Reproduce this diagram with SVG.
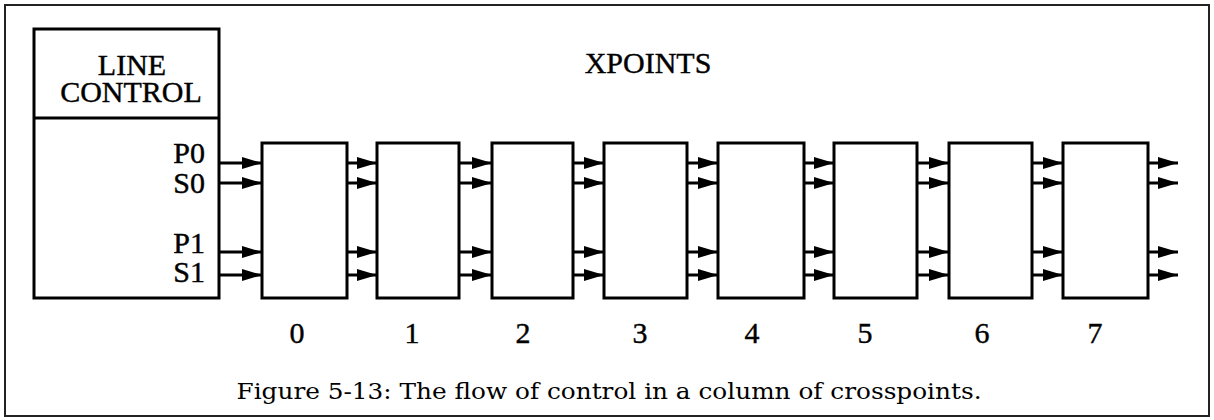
<svg xmlns="http://www.w3.org/2000/svg" width="1214" height="420" viewBox="0 0 1214 420">
<style>
.frame{fill:#fff;stroke:#222;stroke-width:2}
.box{fill:#fff;stroke:#000;stroke-width:3}
.t{font-family:"Liberation Serif","Times New Roman",serif;font-size:30px;fill:#000;stroke:#000;stroke-width:0.4}
.cap{font-family:"DejaVu Serif","Liberation Serif",serif;font-size:23px;fill:#000}
.c{stroke:#000;stroke-width:3;fill:none;marker-end:url(#ah)}
</style>
<defs>
<marker id="ah" markerUnits="userSpaceOnUse" markerWidth="22" markerHeight="14" refX="20" refY="6" orient="auto">
<path d="M0,0 L20,6 L0,12 z" fill="#000"/>
</marker>
</defs>
<rect class="frame" x="5" y="5" width="1204" height="411"/>
<g id="line-control">
<rect class="box" x="34" y="29" width="185" height="269"/>
<line x1="34" y1="118" x2="219" y2="118" stroke="#000" stroke-width="3"/>
<text class="t" x="132" y="75" text-anchor="middle">LINE</text>
<text class="t" x="131" y="102" text-anchor="middle">CONTROL</text>
<text class="t" x="205" y="163" text-anchor="end">P0</text>
<text class="t" x="205" y="193" text-anchor="end">S0</text>
<text class="t" x="205" y="253" text-anchor="end">P1</text>
<text class="t" x="205" y="282" text-anchor="end">S1</text>
</g>
<text id="xpoints-title" class="t" x="648" y="73" text-anchor="middle">XPOINTS</text>
<g id="xp0"><rect class="box" x="262" y="143" width="85" height="155"/><text class="t" x="297" y="343" text-anchor="middle">0</text></g>
<g id="xp1"><rect class="box" x="377" y="143" width="82" height="155"/><text class="t" x="412" y="343" text-anchor="middle">1</text></g>
<g id="xp2"><rect class="box" x="492" y="143" width="81" height="155"/><text class="t" x="523" y="343" text-anchor="middle">2</text></g>
<g id="xp3"><rect class="box" x="604" y="143" width="83" height="155"/><text class="t" x="640" y="343" text-anchor="middle">3</text></g>
<g id="xp4"><rect class="box" x="718" y="143" width="86" height="155"/><text class="t" x="752" y="343" text-anchor="middle">4</text></g>
<g id="xp5"><rect class="box" x="834" y="143" width="83" height="155"/><text class="t" x="865" y="343" text-anchor="middle">5</text></g>
<g id="xp6"><rect class="box" x="949" y="143" width="83" height="155"/><text class="t" x="982" y="343" text-anchor="middle">6</text></g>
<g id="xp7"><rect class="box" x="1063" y="143" width="85" height="155"/><text class="t" x="1095" y="343" text-anchor="middle">7</text></g>
<g id="connectors">
<path class="c" d="M219,163 H262"/><path class="c" d="M219,183 H262"/><path class="c" d="M219,252 H262"/><path class="c" d="M219,275 H262"/>
<path class="c" d="M347,163 H377"/><path class="c" d="M347,183 H377"/><path class="c" d="M347,252 H377"/><path class="c" d="M347,275 H377"/>
<path class="c" d="M459,163 H492"/><path class="c" d="M459,183 H492"/><path class="c" d="M459,252 H492"/><path class="c" d="M459,275 H492"/>
<path class="c" d="M573,163 H604"/><path class="c" d="M573,183 H604"/><path class="c" d="M573,252 H604"/><path class="c" d="M573,275 H604"/>
<path class="c" d="M687,163 H718"/><path class="c" d="M687,183 H718"/><path class="c" d="M687,252 H718"/><path class="c" d="M687,275 H718"/>
<path class="c" d="M804,163 H834"/><path class="c" d="M804,183 H834"/><path class="c" d="M804,252 H834"/><path class="c" d="M804,275 H834"/>
<path class="c" d="M917,163 H949"/><path class="c" d="M917,183 H949"/><path class="c" d="M917,252 H949"/><path class="c" d="M917,275 H949"/>
<path class="c" d="M1032,163 H1063"/><path class="c" d="M1032,183 H1063"/><path class="c" d="M1032,252 H1063"/><path class="c" d="M1032,275 H1063"/>
<path class="c" d="M1148,163 H1178"/><path class="c" d="M1148,183 H1178"/><path class="c" d="M1148,252 H1178"/><path class="c" d="M1148,275 H1178"/>
</g>
<text id="caption" class="cap" x="609" y="399" text-anchor="middle" textLength="745" lengthAdjust="spacingAndGlyphs">Figure 5-13: The flow of control in a column of crosspoints.</text>
</svg>
